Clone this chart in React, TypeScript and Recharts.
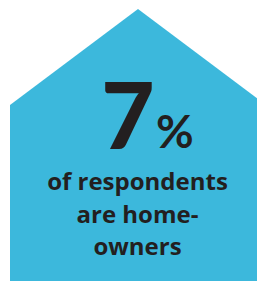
import { AreaChart, Area, XAxis, YAxis } from 'recharts';

// house outline: horizontal position and height above the bottom edge
const outlineX = [10, 138, 266];
const outlineHeight = [176, 272, 176];

const shareValue = '7';
const shareUnit = '%';
const captionLines = ['of respondents', 'are home-', 'owners'];

const houseData = outlineX.map((x, i) => ({ x, h: outlineHeight[i] }));

const ink = '#231f20';
const font = 'Lato, "Noto Sans", sans-serif';
const captionFont = '"Open Sans", "Noto Sans", sans-serif';

function Caption() {
    return (
        <svg width={257} height={281} style={{ position: 'absolute', left: 0, top: 0 }}>
            <text x={128} y={149} textAnchor="middle" fill={ink} fontFamily={font} fontWeight={900} fontSize={92}>
                {shareValue}
            </text>
            <text x={156} y={148} textAnchor="start" fill={ink} fontFamily={font} fontWeight={700} fontSize={46}>
                {shareUnit}
            </text>
            {captionLines.map((line, i) => (
                <text
                    key={line}
                    x={137.5}
                    y={190 + i * 32.5}
                    textAnchor="middle"
                    fill={ink}
                    fontFamily={captionFont}
                    fontWeight={700}
                    fontSize={24}
                >
                    {line}
                </text>
            ))}
        </svg>
    );
}

export default function App() {
    return (
        <div style={{ position: 'absolute', left: 0, top: 0, width: 257, height: 281, background: '#fff' }}>
            <AreaChart width={257} height={281} data={houseData} margin={{ top: 0, right: 0, bottom: 0, left: 0 }}>
                <XAxis dataKey="x" type="number" domain={[0, 257]} allowDataOverflow hide />
                <YAxis type="number" domain={[0, 281]} allowDataOverflow hide />
                <Area
                    type="linear"
                    dataKey="h"
                    stroke="none"
                    fill="#3cb8dc"
                    fillOpacity={1}
                    dot={false}
                    activeDot={false}
                    isAnimationActive={false}
                />
            </AreaChart>
            <Caption />
        </div>
    );
}
